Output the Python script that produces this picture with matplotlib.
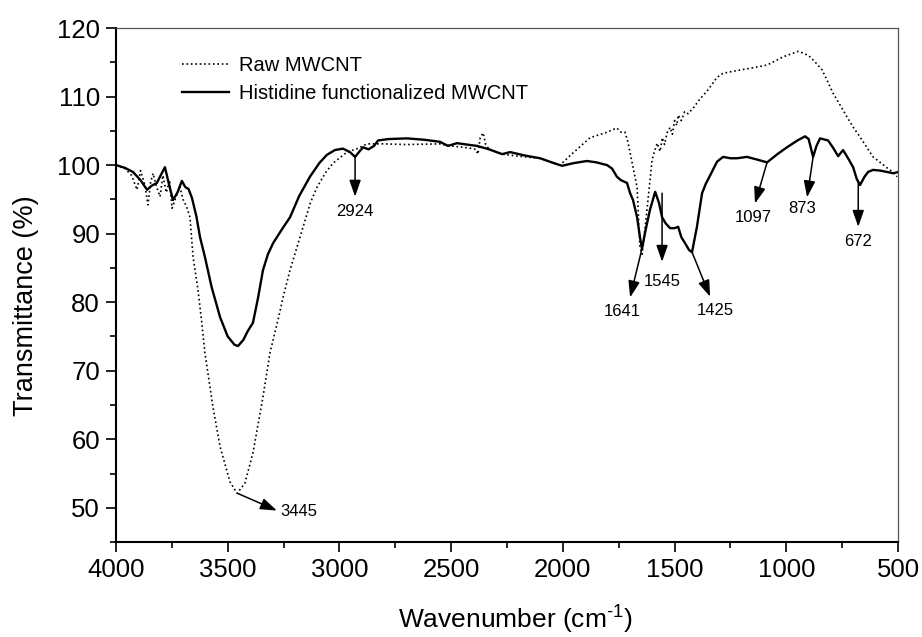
import matplotlib
matplotlib.use("Agg")
import matplotlib.pyplot as plt
from matplotlib.ticker import MultipleLocator

plt.rcParams["font.family"] = ["Liberation Sans", "DejaVu Sans"]
plt.rcParams["mathtext.fontset"] = "custom"
plt.rcParams["mathtext.rm"] = "Liberation Sans"

# FTIR spectra (wavenumber in cm-1, transmittance in %)
raw_wn = [4000, 3960, 3930, 3906, 3890, 3870, 3857, 3845, 3834, 3820, 3803, 3790,
          3775, 3760, 3749, 3730, 3714, 3700, 3685, 3669, 3655, 3633, 3615, 3602,
          3566, 3534, 3490, 3458, 3423, 3387, 3342, 3311, 3275, 3250, 3221, 3167,
          3130, 3100, 3060, 3028, 2966, 2920, 2877, 2805, 2700, 2550, 2500, 2420,
          2390, 2380, 2370, 2357, 2345, 2330, 2272, 2200, 2102, 2013, 1954, 1878,
          1802, 1775, 1758, 1740, 1722, 1710, 1699, 1668, 1655, 1645, 1625, 1601,
          1590, 1578, 1565, 1555, 1545, 1534, 1520, 1510, 1500, 1490, 1484, 1470,
          1455, 1440, 1417, 1390, 1350, 1310, 1283, 1220, 1149, 1086, 1050, 1014,
          980, 947, 920, 894, 870, 840, 815, 791, 760, 728, 700, 670, 640, 612,
          580, 549, 520, 504]
raw_t = [100.0, 99.5, 98.5, 96.4, 99.2, 97.0, 94.2, 97.5, 98.8, 97.0, 95.4, 98.5,
         96.0, 97.8, 93.7, 95.5, 96.8, 95.0, 94.0, 92.4, 86.6, 81.8, 76.7, 72.6,
         64.7, 58.9, 53.8, 52.1, 53.6, 58.0, 66.2, 72.6, 77.4, 81.0, 84.7, 90.5,
         94.5, 96.8, 99.0, 100.3, 101.9, 102.4, 103.1, 103.1, 103.0, 103.1, 102.8, 102.5,
         102.3, 101.6, 104.0, 104.7, 103.0, 102.3, 101.6, 101.3, 101.0, 100.0, 101.8, 104.0,
         104.8, 105.2, 105.4, 104.8, 104.8, 103.5, 101.8, 96.8, 88.0, 87.0, 93.0, 100.7,
         102.0, 103.2, 102.0, 104.0, 103.0, 104.7, 105.5, 104.5, 106.5, 105.8, 107.3, 106.5,
         107.8, 107.5, 108.3, 109.5, 111.0, 112.8, 113.4, 113.8, 114.2, 114.6, 115.2, 115.8,
         116.2, 116.6, 116.3, 115.8, 115.0, 113.9, 112.2, 110.5, 108.8, 107.0, 105.5, 104.1, 102.6, 101.2,
         100.4, 99.6, 98.9, 98.3]

his_wn = [4000, 3960, 3924, 3890, 3861, 3840, 3817, 3800, 3781, 3765, 3745, 3725,
          3705, 3690, 3675, 3660, 3640, 3624, 3602, 3572, 3534, 3500, 3470, 3454,
          3430, 3410, 3387, 3365, 3342, 3320, 3297, 3260, 3221, 3180, 3132, 3090,
          3056, 3020, 2984, 2953, 2930, 2910, 2894, 2870, 2845, 2827, 2780, 2698,
          2620, 2550, 2514, 2474, 2430, 2384, 2330, 2272, 2236, 2170, 2102, 2050,
          2004, 1950, 1892, 1850, 1802, 1780, 1758, 1740, 1713, 1699, 1686, 1668,
          1655, 1646, 1630, 1610, 1587, 1570, 1556, 1540, 1520, 1500, 1484, 1470,
          1453, 1435, 1422, 1400, 1377, 1360, 1341, 1310, 1283, 1250, 1220, 1176,
          1130, 1086, 1040, 997, 950, 916, 900, 880, 865, 849, 813, 790, 768, 746,
          720, 701, 685, 670, 650, 634, 612, 580, 549, 520, 500]
his_t = [100.0, 99.6, 99.0, 97.8, 96.4, 97.0, 97.4, 98.5, 99.7, 97.5, 94.9, 96.0,
         97.7, 96.8, 96.5, 95.2, 92.5, 89.5, 86.6, 82.2, 77.8, 75.0, 73.8, 73.6,
         74.5, 75.8, 77.0, 80.5, 84.7, 87.0, 88.6, 90.5, 92.4, 95.5, 98.3, 100.3,
         101.5, 102.2, 102.4, 101.9, 101.2, 102.0, 102.6, 102.3, 102.8, 103.6, 103.8, 103.9,
         103.7, 103.4, 102.8, 103.2, 103.0, 102.8, 102.3, 101.6, 101.9, 101.4, 101.0, 100.4,
         99.9, 100.3, 100.6, 100.4, 100.0, 99.5, 98.3, 97.8, 97.4, 95.9, 94.9, 92.4,
         89.5, 87.8, 90.5, 93.5, 96.1, 94.5, 92.4, 91.5, 90.8, 90.8, 91.0, 89.5,
         88.6, 87.6, 87.3, 91.0, 95.9, 97.3, 98.5, 100.5, 101.2, 101.0, 101.0, 101.2,
         100.8, 100.4, 101.6, 102.6, 103.6, 104.2, 103.8, 101.2, 102.8, 103.9, 103.6, 102.5, 101.3, 102.2,
         100.8, 99.7, 98.0, 97.1, 98.3, 99.0, 99.3, 99.2, 99.0, 98.8, 99.0]

# peak labels: text, arrow start (on curve), arrow tip, text position
peak_labels = ["3445", "2924", "1641", "1545", "1425", "1097", "873", "672"]
peak_from = [(3455, 52.1), (2930, 101.2), (1646, 87.8), (1556, 95.9),
             (1422, 87.3), (1086, 100.4), (880, 101.2), (678, 97.4)]
peak_tip = [(3280, 49.6), (2930, 95.4), (1699, 80.7), (1556, 85.9),
            (1341, 80.8), (1140, 94.4), (907, 95.3), (678, 91.0)]
peak_text = [(3266, 49.4), (2930, 93.3), (1735, 78.6), (1556, 83.0),
             (1319, 78.8), (1149, 92.4), (929, 93.7), (678, 88.8)]

fig = plt.figure(figsize=(9.22, 6.37), dpi=100)
ax = fig.add_axes([0.1258, 0.149, 0.8482, 0.807])

ax.plot(raw_wn, raw_t, color="black", linestyle=":", linewidth=1.2, label="Raw MWCNT")
ax.plot(his_wn, his_t, color="black", linestyle="-", linewidth=1.7,
        label="Histidine functionalized MWCNT")

for i, lab in enumerate(peak_labels):
    ax.annotate("", xy=peak_tip[i], xytext=peak_from[i],
                arrowprops=dict(arrowstyle="-|>,head_length=1.0,head_width=0.35",
                                color="black", lw=1.1, shrinkA=0, shrinkB=0))
    ha = "left" if lab == "3445" else "center"
    ax.text(peak_text[i][0], peak_text[i][1], lab, fontsize=12, ha=ha, va="center")

ax.set_xlim(4000, 500)
ax.set_ylim(45, 120)
ax.xaxis.set_major_locator(MultipleLocator(500))
ax.xaxis.set_minor_locator(MultipleLocator(250))
ax.yaxis.set_major_locator(MultipleLocator(10))
ax.yaxis.set_minor_locator(MultipleLocator(5))
ax.tick_params(which="both", direction="out", top=False, right=False, width=1.2,
               labelsize=18.5)
ax.tick_params(which="major", length=7.5, pad=4)
ax.tick_params(which="minor", length=4)

for side in ["left", "bottom"]:
    ax.spines[side].set_linewidth(1.5)
for side in ["top", "right"]:
    ax.spines[side].set_linewidth(0.9)
    ax.spines[side].set_color("#555555")

ax.set_xlabel(r"Wavenumber (cm$^{\text{-1}}$)", fontsize=19)
ax.set_ylabel("Transmittance (%)", fontsize=19.5)
ax.xaxis.set_label_coords(0.511, -0.116)
ax.yaxis.set_label_coords(-0.098, 0.459)

ax.legend(loc="upper left", bbox_to_anchor=(0.085, 0.945), frameon=False,
          fontsize=14.5, handlelength=2.3, handletextpad=0.5, labelspacing=0.42,
          borderpad=0, borderaxespad=0)

fig.savefig("out.png", dpi=100)
